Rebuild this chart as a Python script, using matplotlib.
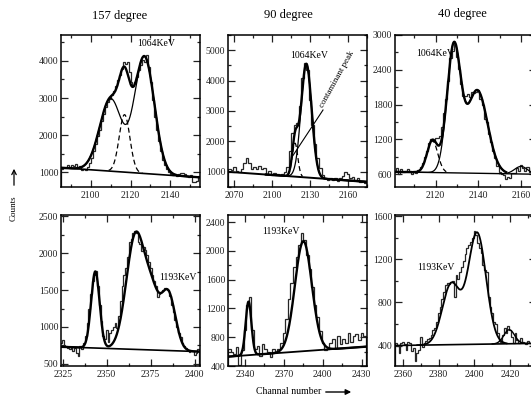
import numpy as np
import matplotlib
matplotlib.use("Agg")
import matplotlib.pyplot as plt
from matplotlib.ticker import MultipleLocator

plt.rcParams['font.family'] = ['Liberation Serif', 'DejaVu Serif']

# ---------------- data: histograms (counts per bin) ----------------
# Top-left: 157 degree, 1064 keV, 1-channel bins starting at 2085
tl_start, tl_width = 2085, 1
tl_counts = [1080, 1120, 1100, 1180, 1150, 1200, 1160, 1210, 1120, 1170,
             1060, 1080, 1050, 1130, 1260, 1380, 1560, 1760, 1980, 2150,
             2380, 2560, 2750, 2900, 2980, 3080, 3200, 3330, 3480, 3620,
             3780, 3960, 3930, 3960, 3700, 3420, 3330, 3420, 3560, 3750,
             3900, 4020, 3960, 4150, 3850, 3420, 2950, 2480, 2150, 1850,
             1560, 1320, 1200, 1080, 1010, 960, 930, 960, 900, 950,
             990, 990, 960, 900, 870, 920, 730, 730, 760, 900]

# Top-middle: 90 degree, 1064 keV, 2-channel bins starting at 2065
tm_start, tm_width = 2065, 2
tm_counts = [1080, 1050, 1150, 1020, 980, 1100, 1300, 1450, 1300, 1080,
             1150, 1100, 1200, 1080, 1130, 940, 1010, 880, 950, 920,
             900, 930, 1000, 1150, 1700, 2280, 2540, 2600, 3150, 4100,
             4570, 4350, 3350, 2550, 1900, 1450, 1120, 880, 780, 720,
             800, 740, 780, 700, 800, 870, 1000, 930, 800, 840,
             720, 780, 650, 700, 620]

# Top-right: 40 degree, 1064 keV, 1-channel bins starting at 2100.5
tr_start, tr_width = 2100.5, 1
tr_counts = [650, 700, 610, 690, 640, 660, 690, 650, 600, 660,
             620, 680, 720, 800, 900, 1000, 1140, 1210, 1180, 1230,
             1220, 1260, 1420, 1650, 1900, 2200, 2600, 2720, 2850, 2620,
             2420, 2150, 1950, 1940, 1980, 1930, 2010, 2000, 2020, 2060,
             1900, 1800, 1550, 1500, 1300, 1150, 1000, 880, 750, 640,
             600, 580, 520, 560, 530, 620, 620, 700, 660, 760,
             700, 660, 720, 640, 700, 680]

# Bottom-left: 157 degree, 1193 keV, 1-channel bins starting at 2323.5
bl_start, bl_width = 2323.5, 1
bl_counts = [780, 820, 760, 740, 720, 700, 730, 680, 720, 650,
             600, 740, 700, 780, 880, 1050, 1250, 1450, 1620, 1700,
             1760, 1550, 1300, 1080, 880, 840, 960, 800, 920, 960,
             1000, 1050, 980, 1150, 1350, 1550, 1700, 1800, 1950, 2150,
             2200, 2280, 2300, 2270, 2150, 2120, 2030, 2080, 2050, 1980,
             1880, 1800, 1700, 1620, 1550, 1400, 1450, 1470, 1500, 1530,
             1520, 1500, 1420, 1300, 1200, 1100, 1000, 920, 860, 780,
             740, 720, 690, 660, 680, 670, 620, 640, 700]

# Bottom-middle: 90 degree, 1193 keV, 2-channel bins starting at 2327
bm_start, bm_width = 2327, 2
bm_counts = [640, 600, 560, 660, 420, 620, 900, 1250, 1360, 900,
             640, 680, 540, 700, 640, 590, 520, 640, 600, 640,
             720, 860, 1050, 1330, 1560, 1780, 1920, 2080, 2250, 2150,
             1950, 1750, 1500, 1250, 1080, 880, 720, 620, 640, 720,
             780, 650, 820, 700, 780, 720, 860, 740, 820, 850,
             760, 860, 820]

# Bottom-right: 40 degree, 1193 keV, 1-channel bins starting at 2355.5
br_start, br_width = 2355.5, 1
br_counts = [420, 400, 330, 420, 430, 410, 360, 430, 420, 350,
             380, 260, 330, 360, 480, 390, 420, 440, 460, 470,
             500, 540, 560, 620, 700, 760, 830, 900, 960, 980,
             970, 990, 1000, 850, 1050, 1020, 1080, 1130, 1180, 1250,
             1300, 1330, 1360, 1400, 1460, 1420, 1350, 1300, 1260, 1150,
             1100, 1080, 850, 760, 700, 620, 600, 520, 440, 430,
             500, 560, 520, 580, 540, 480, 420, 520, 450, 420,
             470, 430, 420, 410, 440, 420, 400, 430, 410]

# ---------------- data: fitted peak parameters ----------------
# (centroid channel, height above background, sigma in channels)
tl_cent = [2110, 2117, 2127]
tl_amp = [1950, 1550, 3150]
tl_sig = [5.5, 2.7, 5.0]
tl_bg = [1120, 860]

tm_cent = [2127, 2118]
tm_amp = [3740, 1100]
tm_sig = [4.2, 2.2]
tm_bg = [1000, 670]

tr_cent = [2118.5, 2128.5, 2139.5, 2160]
tr_amp = [550, 2150, 1430, 130]
tr_sig = [2.5, 3.2, 4.8, 3.0]
tr_bg = [640, 600]

bl_cent = [2343.5, 2366.5, 2376, 2385]
bl_amp = [1040, 1560, 600, 770]
bl_sig = [2.4, 5.3, 4.0, 4.0]
bl_bg = [730, 665]

bm_cent = [2342.8, 2385]
bm_amp = [745, 1530]
bm_sig = [2.2, 6.5]
bm_bg = [530, 670]

br_cent = [2387, 2401.5, 2419.5]
br_amp = [560, 1030, 130]
br_sig = [5.0, 5.0, 3.0]
br_bg = [400, 420]

# ---------------- figure ----------------
W, H = 531, 398
fig = plt.figure(figsize=(W / 100, H / 100), dpi=100)


def ax_at(x0, y0, x1, y1):
    return fig.add_axes([x0 / W, 1 - y1 / H, (x1 - x0) / W, (y1 - y0) / H])


def style(ax, xlim, ylim, xmaj, xmin, ymaj, ymin):
    ax.set_xlim(*xlim)
    ax.set_ylim(*ylim)
    ax.xaxis.set_major_locator(MultipleLocator(xmaj))
    ax.xaxis.set_minor_locator(MultipleLocator(xmin))
    ax.yaxis.set_major_locator(MultipleLocator(ymaj))
    ax.yaxis.set_minor_locator(MultipleLocator(ymin))
    ax.tick_params(which='both', direction='in', top=True, right=True,
                   labelsize=7, width=0.9, colors='#222222')
    ax.tick_params(axis='x', pad=3)
    ax.tick_params(axis='y', pad=2)
    ax.tick_params(which='major', length=5)
    ax.tick_params(which='minor', length=2.5)
    for s in ax.spines.values():
        s.set_linewidth(1.1)


def bgline(x, xlim, bg):
    return bg[0] + (bg[1] - bg[0]) * (x - xlim[0]) / (xlim[1] - xlim[0])


def fitcurve(x, xlim, bg, cent, amp, sig, idx):
    y = bgline(x, xlim, bg)
    for i in idx:
        y = y + amp[i] * np.exp(-0.5 * ((x - cent[i]) / sig[i]) ** 2)
    return y


def hist(ax, start, width, counts):
    edges = start + width * np.arange(len(counts) + 1)
    ax.stairs(counts, edges, color='#262626', lw=0.9)


# Top-left
ax = ax_at(61, 35, 200, 187)
xl = (2085, 2155)
style(ax, xl, (600, 4700), 20, 10, 1000, 500)
hist(ax, tl_start, tl_width, tl_counts)
x = np.linspace(*xl, 400)
ax.plot(x, fitcurve(x, xl, tl_bg, tl_cent, tl_amp, tl_sig, [0, 1, 2]), 'k', lw=1.7)
ax.plot(x, fitcurve(x, xl, tl_bg, tl_cent, tl_amp, tl_sig, [0, 2]), 'k', lw=0.9)
xd = np.linspace(2109, 2126, 100)
ax.plot(xd, fitcurve(xd, xl, tl_bg, tl_cent, tl_amp, tl_sig, [1]), 'k--', lw=0.9, dashes=(4, 2.5))
ax.plot(xl, tl_bg, 'k', lw=1.2)

# Top-middle
ax = ax_at(228, 35, 367, 187)
xl = (2065, 2175)
style(ax, xl, (500, 5500), 30, 15, 1000, 500)
hist(ax, tm_start, tm_width, tm_counts)
x = np.linspace(2095, 2175, 400)
ax.plot(x, fitcurve(x, xl, tm_bg, tm_cent, tm_amp, tm_sig, [0, 1]), 'k', lw=1.7)
ax.plot(x, fitcurve(x, xl, tm_bg, tm_cent, tm_amp, tm_sig, [0]), 'k', lw=0.9)
xd = np.linspace(2112, 2124, 80)
ax.plot(xd, fitcurve(xd, xl, tm_bg, tm_cent, tm_amp, tm_sig, [1]), 'k--', lw=0.9, dashes=(4, 2.5))
ax.plot(xl, tm_bg, 'k', lw=1.4)

# Top-right
ax = ax_at(395, 35, 536, 187)
xl = (2101, 2167)
style(ax, xl, (380, 3000), 20, 10, 600, 300)
hist(ax, tr_start, tr_width, tr_counts)
x = np.linspace(2101, 2153, 400)
ax.plot(x, fitcurve(x, xl, tr_bg, tr_cent, tr_amp, tr_sig, [0, 1, 2]), 'k', lw=1.7)
x2 = np.linspace(2108, 2153, 300)
ax.plot(x2, fitcurve(x2, xl, tr_bg, tr_cent, tr_amp, tr_sig, [1, 2]), 'k', lw=0.9)
xd = np.linspace(2112, 2125, 80)
ax.plot(xd, fitcurve(xd, xl, tr_bg, tr_cent, tr_amp, tr_sig, [0]), 'k--', lw=0.9, dashes=(4, 2.5))
xb = np.linspace(2150, 2167, 80)
ax.plot(xb, fitcurve(xb, xl, tr_bg, tr_cent, tr_amp, tr_sig, [3]), 'k', lw=0.9)
ax.plot(xl, tr_bg, 'k', lw=1.0)

# Bottom-left
ax = ax_at(61, 215, 200, 366)
xl = (2324, 2403)
style(ax, xl, (470, 2520), 25, 12.5, 500, 250)
hist(ax, bl_start, bl_width, bl_counts)
x = np.linspace(*xl, 400)
ax.plot(x, fitcurve(x, xl, bl_bg, bl_cent, bl_amp, bl_sig, [0, 1, 2, 3]), 'k', lw=1.7)
ax.plot(xl, bl_bg, 'k', lw=1.2)

# Bottom-middle
ax = ax_at(228, 215, 367, 366)
xl = (2327, 2434)
style(ax, xl, (400, 2500), 30, 15, 400, 200)
hist(ax, bm_start, bm_width, bm_counts)
x = np.linspace(*xl, 400)
ax.plot(x, fitcurve(x, xl, bm_bg, bm_cent, bm_amp, bm_sig, [0, 1]), 'k', lw=1.7)
ax.plot(xl, bm_bg, 'k', lw=1.3)

# Bottom-right
ax = ax_at(395, 215, 536, 366)
xl = (2355.5, 2434.5)
style(ax, xl, (210, 1610), 20, 10, 400, 200)
hist(ax, br_start, br_width, br_counts)
x = np.linspace(2368, 2418, 400)
ax.plot(x, fitcurve(x, xl, br_bg, br_cent, br_amp, br_sig, [0, 1]), 'k', lw=1.3)
xb = np.linspace(2410, 2430, 100)
ax.plot(xb, fitcurve(xb, xl, br_bg, br_cent, br_amp, br_sig, [2]), 'k', lw=1.0)
ax.plot(xl, br_bg, 'k', lw=1.2)


# ---------------- texts ----------------
def ftext(px, py, s, **kw):
    fig.text(px / W, 1 - py / H, s, **kw)


ftext(120, 16, '157 degree', fontsize=9, ha='center', va='center')
ftext(288, 15, '90 degree', fontsize=9, ha='center', va='center')
ftext(462, 14, '40 degree', fontsize=9, ha='center', va='center')

ftext(156, 44, '1064KeV', fontsize=7, ha='center', va='center')
ftext(309, 55, '1064KeV', fontsize=7, ha='center', va='center')
ftext(435, 53, '1064KeV', fontsize=7, ha='center', va='center')
ftext(178, 277, '1193KeV', fontsize=7, ha='center', va='center')
ftext(281, 232, '1193KeV', fontsize=7, ha='center', va='center')
ftext(436, 267, '1193KeV', fontsize=7, ha='center', va='center')

ftext(337, 79, 'contaminant peak', fontsize=6.5, ha='center', va='center',
      rotation=61, rotation_mode='anchor')
fig.add_artist(matplotlib.lines.Line2D([323 / W, 292 / W], [1 - 110 / H, 1 - 157 / H],
                                       color='k', lw=0.8))

ftext(14, 208, 'Counts', fontsize=6.5, ha='center', va='center', rotation=90)
fig.add_artist(matplotlib.patches.FancyArrowPatch((14 / W, 1 - 188 / H), (14 / W, 1 - 166 / H),
                                                  arrowstyle='->', mutation_scale=8, lw=0.9,
                                                  transform=fig.transFigure))
ftext(289, 392, 'Channal number', fontsize=7, ha='center', va='center')
fig.add_artist(matplotlib.patches.FancyArrowPatch((323 / W, 1 - 392 / H), (354 / W, 1 - 392 / H),
                                                  arrowstyle='-|>', mutation_scale=8, lw=1.0,
                                                  color='k', transform=fig.transFigure))

fig.savefig('out.png', dpi=100)
